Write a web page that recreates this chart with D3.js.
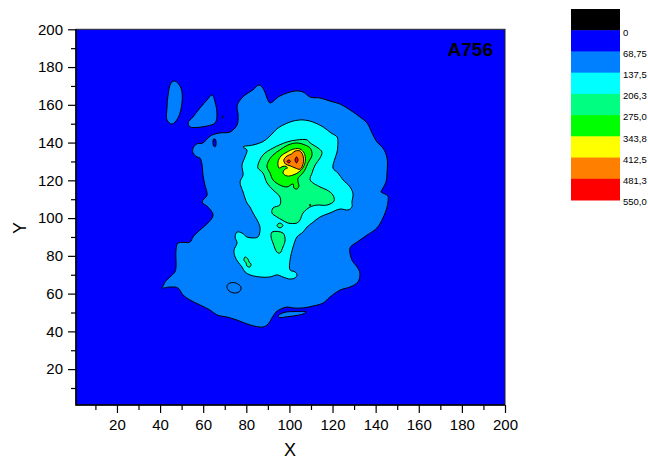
<!DOCTYPE html>
<html>
<head>
<meta charset="utf-8">
<script src="https://cdn.jsdelivr.net/npm/d3@7"></script>
<style>
  body { margin: 0; background: #fff; }
  text { font-family: Arial, "Liberation Sans", sans-serif; }
</style>
</head>
<body>
<svg id="chart" width="648" height="459"></svg>
<script>
// Contour levels and their fill colours (lowest first)
const levels = [0, 68.75, 137.5, 206.3, 275.0, 343.8, 412.5, 481.3, 550.0];
const levelLabels = ["0", "68,75", "137,5", "206,3", "275,0", "343,8", "412,5", "481,3", "550,0"];
const bandColors = ["#000000", "#0000ff", "#0080ff", "#00ffff", "#00ff80", "#00ff00", "#ffff00", "#ff8000", "#ff0000"];

const xTicks = [20, 40, 60, 80, 100, 120, 140, 160, 180, 200];
const yTicks = [20, 40, 60, 80, 100, 120, 140, 160, 180, 200];
const xMinor = [10, 30, 50, 70, 90, 110, 130, 150, 170, 190];
const yMinor = [10, 30, 50, 70, 90, 110, 130, 150, 170, 190];

const sampleName = "A756";

// Contour rings in (X, Y) units. Each ring encloses values above its level.
const ring68Main = [[76.2,161.0],[79.4,165.2],[83.1,167.9],[85.9,170.5],[88.2,167.9],[89.6,163.6],[91.0,161.0],[95.6,164.7],[102.6,167.3],[106.3,166.8],[109.6,164.1],[114.2,163.6],[118.8,162.0],[123.5,160.4],[128.1,157.3],[132.7,153.6],[136.0,150.4],[138.3,145.1],[140.6,140.3],[143.4,137.1],[145.3,131.8],[145.3,124.4],[144.8,119.1],[143.4,115.9],[142.5,113.8],[144.3,112.8],[145.7,111.7],[145.7,108.5],[145.3,105.9],[143.4,100.1],[140.6,94.8],[136.0,91.0],[131.4,87.3],[128.1,84.2],[129.0,77.8],[131.4,74.1],[132.7,70.9],[131.8,66.2],[128.1,63.5],[123.5,61.9],[118.8,58.2],[115.6,55.0],[110.9,53.4],[106.3,52.4],[101.7,52.4],[98.9,52.9],[96.1,51.9],[93.8,50.3],[91.9,47.1],[90.1,43.9],[87.7,42.3],[81.7,43.4],[75.7,46.0],[71.0,47.6],[66.4,48.7],[63.2,51.3],[58.5,54.0],[53.9,56.6],[50.6,59.3],[48.3,63.0],[44.6,63.5],[40.9,63.0],[41.4,64.0],[42.3,66.2],[44.6,68.8],[46.9,71.5],[47.4,74.1],[47.4,83.1],[48.3,86.8],[53.9,87.3],[55.3,90.0],[58.5,93.7],[62.2,97.4],[64.6,101.6],[62.2,105.9],[59.5,108.5],[61.8,112.2],[60.8,117.5],[59.9,122.8],[59.5,128.1],[58.5,131.8],[57.1,132.4],[55.3,134.5],[55.3,137.1],[57.1,139.3],[59.9,139.8],[62.2,142.4],[64.1,144.0],[67.8,145.1],[72.4,145.6],[75.7,149.3],[76.2,154.6],[75.7,158.9]];
const ring68West = [[46.9,172.6],[49.7,168.9],[50.2,161.5],[48.3,153.0],[45.5,149.8],[43.2,152.0],[43.2,158.3],[43.7,165.2],[45.1,171.6]];
const ring68Tri = [[64.1,165.2],[65.5,161.5],[66.4,154.6],[65.5,150.4],[61.8,148.8],[53.9,148.3],[53.0,150.4],[55.3,153.6],[58.5,158.3],[61.8,162.6]];
const ring68South = [[71.0,64.0],[72.4,65.6],[75.2,65.6],[77.5,63.5],[77.1,61.4],[74.8,60.3],[72.0,61.4]];
const ring68Lens = [[94.7,48.1],[97.5,50.0],[103.5,50.5],[107.7,50.3],[106.3,49.2],[103.1,48.4],[98.0,47.6],[95.6,47.3]];
const ring68Speck = [[68.8,153.7],[69.1,154.2],[69.4,153.7],[69.1,153.2]];
// low pocket inside the first band
const hole68 = [[64.8,141.9],[65.7,141.7],[65.7,137.9],[64.8,138.2]];

const ring137Main = [[78.5,137.7],[83.1,138.7],[87.7,140.5],[91.0,143.5],[94.7,147.7],[98.0,149.8],[101.7,151.4],[106.3,152.0],[110.9,150.9],[115.6,148.3],[119.3,145.1],[122.1,143.0],[122.5,140.3],[122.1,135.0],[121.2,131.8],[120.2,126.5],[122.5,123.9],[124.9,120.2],[128.1,116.5],[129.5,112.8],[129.0,108.5],[129.0,105.9],[127.2,104.3],[123.5,104.8],[118.8,102.7],[114.2,100.6],[110.5,97.4],[108.2,95.3],[106.3,92.6],[103.5,90.0],[101.7,84.7],[100.3,77.8],[100.3,72.5],[102.6,71.5],[103.5,69.9],[102.6,68.3],[100.3,67.7],[97.0,68.8],[94.2,69.9],[91.0,68.8],[86.4,68.8],[81.7,69.9],[79.4,71.5],[78.0,74.1],[76.2,76.7],[74.8,79.4],[74.3,83.1],[75.7,86.8],[74.8,90.0],[75.7,92.6],[78.0,92.1],[80.3,90.0],[83.1,89.5],[85.4,90.0],[86.4,94.8],[85.0,99.0],[83.1,102.7],[81.7,105.9],[80.3,108.0],[78.5,113.8],[77.1,119.1],[78.5,122.8],[78.0,128.1],[79.4,132.4],[80.3,136.1]];

const ring206Main = [[85.4,128.1],[87.7,133.4],[92.4,137.1],[98.9,140.3],[103.5,141.4],[108.2,141.4],[109.6,139.8],[113.3,137.1],[115.1,135.0],[114.2,131.8],[111.9,128.1],[110.5,123.9],[109.6,120.2],[114.2,116.5],[117.4,114.9],[120.2,112.2],[120.7,109.1],[117.4,106.9],[112.8,106.9],[109.6,105.9],[106.3,102.7],[104.9,99.0],[103.5,97.4],[99.3,97.4],[96.6,99.0],[94.2,100.6],[91.9,102.7],[92.4,105.4],[95.6,107.0],[95.6,111.2],[92.4,114.9],[89.6,118.6],[87.7,123.9],[85.4,126.5]];
const ring206IslandA = [[91.9,92.6],[97.0,92.1],[98.0,88.4],[97.0,84.7],[95.6,81.5],[94.2,82.0],[92.4,86.8],[91.5,90.0]];
const ring206IslandB = [[94.2,96.1],[95.6,97.4],[97.0,96.1],[95.6,94.8]];
const ring206IslandC = [[79.4,79.4],[80.8,78.3],[81.3,76.7],[82.2,75.7],[81.7,74.1],[80.3,74.6],[79.9,76.2],[78.9,77.8]];

const ring275Main = [[90.1,129.7],[92.4,133.4],[95.6,136.1],[99.3,138.7],[103.5,139.8],[107.2,138.7],[109.6,137.1],[110.5,133.4],[108.6,129.2],[107.2,125.5],[105.4,122.8],[104.0,121.2],[104.0,119.1],[104.4,117.0],[103.5,115.4],[102.1,115.9],[101.7,118.1],[98.9,116.5],[95.6,117.5],[92.4,120.2],[91.0,123.9],[89.6,127.1]];
const ring275Speck = [[109.2,106.9],[109.6,107.3],[110.0,106.9],[109.6,106.5]];

const ring343Main = [[94.7,129.7],[96.1,132.9],[98.9,135.0],[102.1,136.6],[104.9,136.6],[106.8,134.5],[107.4,130.8],[106.5,127.1],[104.4,124.4],[101.7,122.8],[98.9,122.3],[97.0,123.9],[98.0,126.0],[99.0,126.4],[98.6,127.3],[97.0,127.4],[95.2,126.5]];

const ring412Main = [[97.4,130.8],[98.9,132.9],[101.0,134.0],[102.6,135.5],[105.0,135.5],[106.4,132.6],[106.4,129.0],[105.0,125.9],[102.6,126.6],[100.3,127.7],[98.2,128.6]];

const ring481A = [[98.9,130.0],[99.7,130.8],[100.5,130.0],[99.7,129.2]];
const ring481B = [[102.6,130.8],[103.3,132.4],[104.0,130.8],[103.3,129.2]];

// Drawing order: each ring paired with the index of the level it encloses
const rings = [
  { level: 1, points: ring68Main },
  { level: 1, points: ring68West },
  { level: 1, points: ring68Tri },
  { level: 1, points: ring68South },
  { level: 1, points: ring68Lens },
  { level: 1, points: ring68Speck },
  { level: 0, points: hole68 },
  { level: 2, points: ring137Main },
  { level: 3, points: ring206Main },
  { level: 3, points: ring206IslandA },
  { level: 3, points: ring206IslandB },
  { level: 3, points: ring206IslandC },
  { level: 4, points: ring275Main },
  { level: 4, points: ring275Speck },
  { level: 5, points: ring343Main },
  { level: 6, points: ring412Main },
  { level: 7, points: ring481A },
  { level: 7, points: ring481B }
];

const svg = d3.select("#chart");
const plot = { left: 76, right: 505, top: 29.3, bottom: 405 };

const x = d3.scaleLinear().domain([1, 200]).range([plot.left, plot.right]);
const y = d3.scaleLinear().domain([1, 200]).range([plot.bottom, plot.top]);

svg.append("clipPath").attr("id", "plotClip")
  .append("rect")
  .attr("x", plot.left).attr("y", plot.top)
  .attr("width", plot.right - plot.left).attr("height", plot.bottom - plot.top);

const field = svg.append("g").attr("clip-path", "url(#plotClip)");

// lowest band fills the whole field
field.append("rect")
  .attr("x", x(1)).attr("y", y(200))
  .attr("width", x(200) - x(1)).attr("height", y(1) - y(200))
  .attr("fill", bandColors[1]);

const ringPath = d3.line()
  .x(d => x(d[0]))
  .y(d => y(d[1]))
  .curve(d3.curveCatmullRomClosed.alpha(0.5));

field.selectAll("path.ring")
  .data(rings)
  .join("path")
  .attr("class", "ring")
  .attr("d", d => ringPath(d.points))
  .attr("fill", d => bandColors[d.level + 1])
  .attr("stroke", "#000")
  .attr("stroke-width", 1)
  .attr("stroke-linejoin", "round");

// Axes
const axisFont = 15;
const gx = svg.append("g")
  .attr("transform", `translate(0,${plot.bottom})`)
  .call(d3.axisBottom(x).tickValues(xTicks).tickSize(8).tickSizeOuter(0).tickPadding(6));
const gxMinor = svg.append("g")
  .attr("transform", `translate(0,${plot.bottom})`)
  .call(d3.axisBottom(x).tickValues(xMinor).tickSize(5).tickFormat(""));
const gy = svg.append("g")
  .attr("transform", `translate(${plot.left},0)`)
  .call(d3.axisLeft(y).tickValues(yTicks).tickSize(8).tickSizeOuter(0).tickPadding(5));
const gyMinor = svg.append("g")
  .attr("transform", `translate(${plot.left},0)`)
  .call(d3.axisLeft(y).tickValues(yMinor).tickSize(5).tickFormat(""));

[gx, gy].forEach(g => {
  g.selectAll("text")
    .attr("font-size", axisFont)
    .attr("font-family", "Arial, 'Liberation Sans', sans-serif")
    .attr("fill", "#000");
  g.selectAll("line").attr("stroke", "#000").attr("stroke-width", 1.2);
  g.select(".domain").remove();
});
[gxMinor, gyMinor].forEach(g => {
  g.selectAll("line").attr("stroke", "#000").attr("stroke-width", 1.2);
  g.select(".domain").remove();
});

// Frame
svg.append("rect")
  .attr("x", plot.left).attr("y", plot.top)
  .attr("width", plot.right - plot.left).attr("height", plot.bottom - plot.top)
  .attr("fill", "none").attr("stroke", "#222").attr("stroke-width", 1);
svg.append("path")
  .attr("d", `M${plot.left},${plot.top}V${plot.bottom}H${plot.right}`)
  .attr("fill", "none").attr("stroke", "#000").attr("stroke-width", 1.6);

// Axis titles
svg.append("text")
  .attr("x", 290).attr("y", 456)
  .attr("text-anchor", "middle").attr("font-size", 18)
  .text("X");
svg.append("text")
  .attr("transform", "translate(25.5,228) rotate(-90)")
  .attr("text-anchor", "middle").attr("font-size", 18)
  .text("Y");

// Sample label
svg.append("text")
  .attr("x", 493).attr("y", 56)
  .attr("text-anchor", "end").attr("font-size", 19).attr("font-weight", "bold")
  .text(sampleName);

// Colour scale
const bar = { left: 571, right: 620, top: 9, bottom: 200 };
const band = d3.scaleBand().domain(d3.range(bandColors.length)).range([bar.top, bar.bottom]);
const legend = svg.append("g");
legend.selectAll("rect")
  .data(bandColors)
  .join("rect")
  .attr("x", bar.left)
  .attr("y", (d, i) => band(i))
  .attr("width", bar.right - bar.left)
  .attr("height", band.bandwidth() + 0.5)
  .attr("fill", d => d);
legend.selectAll("text")
  .data(levelLabels)
  .join("text")
  .attr("x", bar.right + 3)
  .attr("y", (d, i) => band(i) + band.bandwidth() + 2)
  .attr("dy", "0.35em")
  .attr("font-size", 9.5)
  .text(d => d);
</script>
</body>
</html>
